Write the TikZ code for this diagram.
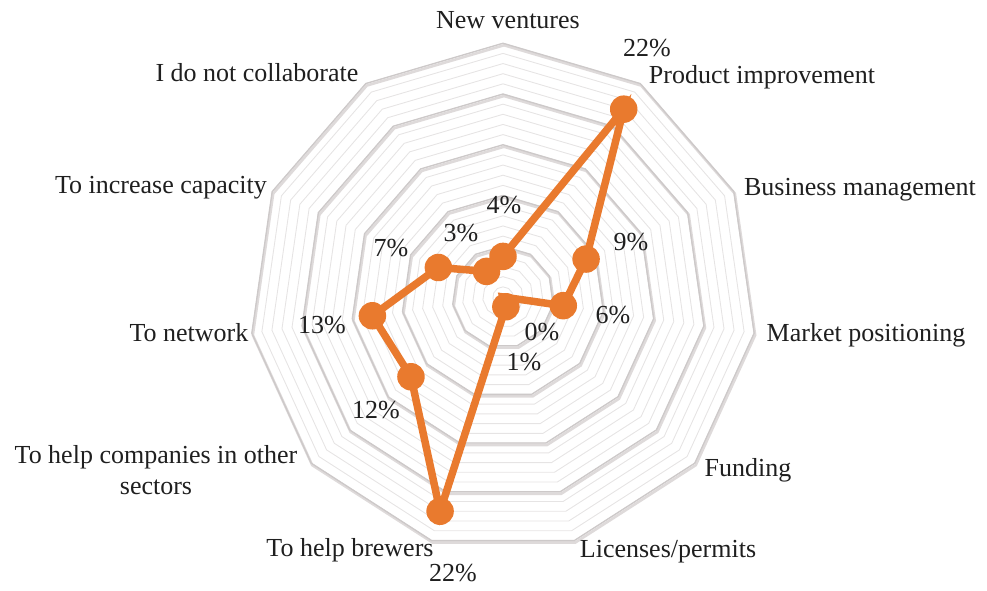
\documentclass[tikz,border=0pt]{standalone}
\usepackage{fontspec}
\setmainfont{Liberation Serif}
\usetikzlibrary{calc,positioning}
\definecolor{seriesorange}{RGB}{233,122,46}
\definecolor{ringgray}{RGB}{230,228,228}
\definecolor{majorgray}{RGB}{205,201,201}
\definecolor{shadowgray}{RGB}{222,218,218}
\tikzset{ring/.style={draw=ringgray, line width=0.9pt}}
\tikzstyle{majorring}=[draw=majorgray, line width=1.3pt]
\tikzstyle{ringshadow}=[draw=shadowgray, line width=2.6pt]
\tikzstyle{axlabel}=[font=\fontsize{26}{31}\selectfont, inner sep=0pt, text=black!88]
\tikzstyle{pct}=[axlabel]
\tikzstyle{series}=[draw=seriesorange, line width=7.5pt]
\tikzstyle{dot}=[circle, fill=seriesorange, minimum size=27.5pt, inner sep=0pt]

\begin{document}
\begin{tikzpicture}[x=1pt, y=1pt]
\useasboundingbox (-503,-293) rectangle (484,297);
% rings, one per percent
\foreach \p in {1,...,25}{
  \draw[ring] (90:\p*10.15) \foreach \k in {1,...,10}{ -- (90-\k*32.7273:\p*10.15)} -- cycle;
}
\foreach \p in {5,10,...,25}{
  \draw[ringshadow] ($(90:\p*10.15)+(1,-2)$) \foreach \k in {1,...,10}{ -- ($(90-\k*32.7273:\p*10.15)+(1,-2)$)} -- cycle;
  \draw[majorring] (90:\p*10.15) \foreach \k in {1,...,10}{ -- (90-\k*32.7273:\p*10.15)} -- cycle;
}
% data points
\foreach \n/\v [count=\k from 0] in {nv/4,pi/22,bm/9,mp/6,fu/0,lp/1,hb/22,hc/12,nw/13,ic/7,dc/3}
  \coordinate (\n) at (90-\k*32.7273:\v*10.15);
\draw[series] (nv) -- (pi) -- (bm) -- (mp) -- (fu) -- (lp) -- (hb) -- (hc) -- (nw) -- (ic) -- (dc) -- cycle;
\foreach \n in {nv,pi,bm,mp,lp,hb,hc,nw,ic,dc}
  \node[dot] (\n dot) at (\n) {};
% axis labels
\node[axlabel] (nvlab) at (5,277) {New ventures};
\node[axlabel] (pilab) at (259,220) {Product improvement};
\node[axlabel] (bmlab) at (357,107) {Business management};
\node[axlabel] (mplab) at (363,-38) {Market positioning};
\node[axlabel] (fulab) at (245,-173) {Funding};
\node[axlabel] (lplab) at (165,-255) {Licenses/permits};
\node[axlabel] (hblab) at (-153,-253) {To help brewers};
\node[axlabel, align=center] (hclab) at (-347,-173) {To help companies in other\\sectors};
\node[axlabel] (nwlab) at (-314,-36) {To network};
\node[axlabel] (iclab) at (-342,109) {To increase capacity};
\node[axlabel] (dclab) at (-246,224) {I do not collaborate};
% values
\node[pct] (nvval) at (1,92) {4\%};
\node[pct] (pival) at (144,249) {22\%};
\node[pct] (bmval) at (128,55) {9\%};
\node[pct] (mpval) at (110,-18) {6\%};
\node[pct] (fuval) at (39,-35) {0\%};
\node[pct] (lpval) at (21,-65) {1\%};
\node[pct] (hbval) at (-50,-276) {22\%};
\node[pct] (hcval) at (-127,-113) {12\%};
\node[pct] (nwval) at (-181,-28) {13\%};
\node[pct] (icval) at (-112,49) {7\%};
\node[pct] (dcval) at (-42,64) {3\%};
\end{tikzpicture}
\end{document}
